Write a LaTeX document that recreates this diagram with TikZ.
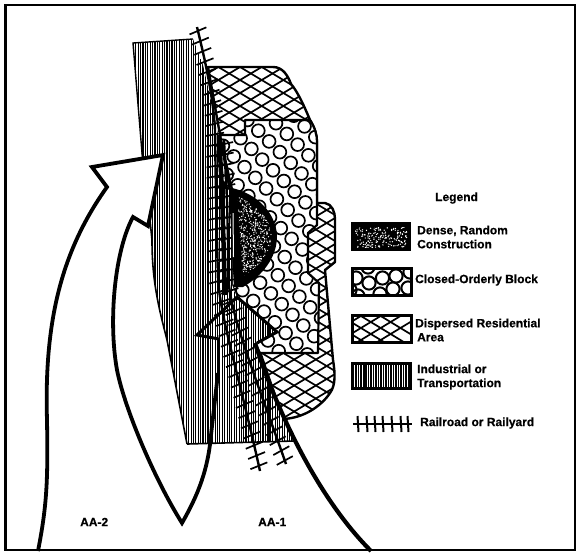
\documentclass[tikz,border=0pt]{standalone}
\usepackage{fontspec}
\setmainfont{Liberation Sans}
\newfontfamily\heavyfont[FakeBold=0.5,UprightFont=* Bold]{Liberation Sans}
\usetikzlibrary{decorations.markings}
\def\indpath{(133,43) -- (193,39) -- (203,65) -- (212,105) -- (218,135) -- (224,180) -- (232,195) -- (232,285) -- (237,297) -- (277,332) -- (255,343) -- (294,441) -- (187,444) -- (167,340) .. controls (158,305) and (152,280) .. (152,240) -- (148,200) -- (142,153) -- cycle}
\def\disppath{(208,67) -- (273,67) .. controls (283,67) and (288,76) .. (291,84) .. controls (298,92) and (305,108) .. (310,120) .. controls (315,128) and (317,135) .. (317,142) -- (317,203) -- (325,203) .. controls (332,204) and (335,212) .. (335,219) -- (335,262) -- (325,270) -- (333,360) .. controls (335,372) and (336,385) .. (330,393) .. controls (322,405) and (305,418) .. (283,419) -- (257,343) -- (220,135) -- cycle}
\def\closedpath{(220,135) -- (245,135) -- (245,120) -- (310,120) .. controls (315,128) and (317,135) .. (317,142) -- (317,225) -- (308,233) -- (308,273) -- (319,283) -- (318,353) -- (260,353) -- (255,343) -- (277,332) -- (237,297) -- (232,285) -- (232,190) -- cycle}
\def\densepath{(226,187) .. controls (252,190) and (276,210) .. (277,236) .. controls (277,258) and (262,276) .. (243,287) -- (234,287) -- (229,190) -- cycle}
\tikzset{
  arrowline/.style={line width=3.8pt,line join=miter},
  hatchline/.style={line width=1.7pt},
  blockcircle/.style={line width=1.7pt,fill=white},
  legendbox/.style={draw,line width=3pt},
  legendtext/.style={font=\fontsize{12}{14}\selectfont\heavyfont,align=left,anchor=west,inner sep=0pt},
  railrail/.style={line width=2.4pt,postaction={decorate,decoration={markings,mark=between positions 4pt and 1 step 10.5pt with {\draw[line width=1.7pt] (-1.5,-9) -- (1.5,9);}}}},
}
\begin{document}
\begin{tikzpicture}[x=1pt,y=-1pt]
\useasboundingbox (0,0) rectangle (580,558);
\fill[white] (0,0) rectangle (580,558);
\pgfmathsetseed{11}
% dispersed residential
\begin{scope}
  \clip \disppath;
  \foreach \k in {-155,-142,...,340}{\draw[hatchline] (200,\k+120) -- (345,\k+207);}
  \foreach \k in {-107,-94,...,600}{\draw[hatchline] (200,\k+120) -- (345,\k+33);}
\end{scope}
\draw[line width=2.4pt,line join=round] \disppath;
% closed orderly block
\fill[white] \closedpath;
\begin{scope}
  \clip \closedpath;
  \foreach \a in {-6,...,24}{\foreach \b in {-8,...,8}{
    \pgfmathsetmacro\cx{258.3+10.8*\a-17.7*\b}
    \pgfmathsetmacro\cy{130.7+10.7*\a+7.5*\b}
    \draw[blockcircle] (\cx,\cy) circle[radius=6.4pt];
  }}
\end{scope}
\draw[line width=2.2pt,line join=round] \closedpath;
% industrial
\fill[white] \indpath;
\begin{scope}
  \clip \indpath;
  \foreach \i in {0,...,70}{
    \pgfmathsetmacro\xx{131+\i*2.4}
    \pgfmathsetmacro\wd{0.7+0.95*rnd}
    \draw[line width=\wd pt] (\xx,30) -- (\xx,450);
  }
\end{scope}
\draw[line width=1.6pt] (187,444) -- (294,441);
\draw[line width=1.4pt] (193,39) -- (133,43) -- (142,153);
\draw[line width=1.6pt] (142,153) -- (148,200) -- (152,240) .. controls (152,280) and (158,305) .. (167,340) -- (187,444);
% railroad
\draw[railrail] (197,27) .. controls (205,60) and (213,95) .. (215,130) -- (216,200) -- (218,280) .. controls (221,320) and (240,380) .. (260,471);
\draw[railrail] (224,140) -- (227,200) -- (229,285) .. controls (232,320) and (262,395) .. (286,464);
\draw[line width=4.5pt] (219,135) -- (222,190) -- (225,295);
% dense random construction
\fill[black] \densepath;
\draw[white,line width=1pt] (233,213) -- (233.5,257);
\begin{scope}
  \clip (237,196) .. controls (256,204) and (272,220) .. (272,238) .. controls (272,252) and (258,268) .. (243,276) -- cycle;
  \foreach \i in {1,...,650}{
    \pgfmathsetmacro\px{236+37*rnd}
    \pgfmathsetmacro\py{195+82*rnd}
    \fill[white] (\px,\py) circle[radius=0.65pt];
  }
\end{scope}
% arrows
\fill[white] (38,549) .. controls (47,505) and (48,480) .. (47,420) .. controls (44,320) and (62,250) .. (107,187) -- (92,167) -- (163,155) -- (148,226) -- (133,217) .. controls (115,250) and (108,320) .. (117,370) .. controls (125,410) and (155,480) .. (182,523) -- (100,549) -- cycle;
\draw[arrowline] (38,551) .. controls (47,505) and (48,480) .. (47,420) .. controls (44,320) and (62,250) .. (107,187) -- (92,167) -- (163,155) -- (148,226) -- (133,217) .. controls (115,250) and (108,320) .. (117,370) .. controls (125,410) and (155,480) .. (182,523) .. controls (198,495) and (208,470) .. (211,435) -- (218,373);
\draw[line width=2pt] (218,373) -- (219,338);
\draw[line width=3pt,line join=miter] (219,339) -- (197,335) -- (237,297) -- (277,332) -- (257,343);
\draw[line width=4.2pt] (255,343) .. controls (275,405) and (315,495) .. (371,551);
% labels
\node[legendtext] (aa2) at (80,522) {AA-2};
\node[legendtext] (aa1) at (258,522) {AA-1};
% legend
\node[legendtext] (title) at (435,198) {Legend};
% dense swatch
\fill[black] (351,222) rectangle (411,251);
\begin{scope}
  \clip (355,227) rectangle (407,247);
  \foreach \i in {1,...,170}{
    \pgfmathsetmacro\px{355+52*rnd}
    \pgfmathsetmacro\py{226+22*rnd}
    \fill[white] (\px,\py) circle[radius=0.7pt];
  }
\end{scope}
\node[legendtext] (t1) at (417,237) {Dense, Random\\Construction};
% closed swatch
\begin{scope}
  \clip (351,267) rectangle (412,296);
  \foreach \cx/\cy in {369/283,382.5/278,396/276,393/289,408/288,356/278,368/267,380/294,350/290,410/272,358/296}{
    \draw[line width=2pt] (\cx,\cy) circle[radius=6.6pt];
  }
\end{scope}
\draw[legendbox] (352,268) rectangle (411.5,295);
\node[legendtext] (t2) at (415,280) {Closed-Orderly Block};
% dispersed swatch
\begin{scope}
  \clip (351,314) rectangle (412,343);
  \foreach \k in {-30,-18,...,30}{\draw[hatchline] (351,\k+328) -- (412,\k+365);}
  \foreach \k in {-30,-18,...,30}{\draw[hatchline] (351,\k+328) -- (412,\k+291);}
\end{scope}
\draw[legendbox] (352,315) rectangle (411.5,342);
\node[legendtext] (t3) at (415,330) {Dispersed Residential\\\hspace*{2pt}Area};
% industrial swatch
\begin{scope}
  \clip (351,362) rectangle (411,389);
  \foreach \i in {0,...,24}{
    \pgfmathsetmacro\xx{351+\i*2.5}
    \pgfmathsetmacro\wd{1.0+1.0*rnd}
    \draw[line width=\wd pt] (\xx,360) -- (\xx,390);
  }
\end{scope}
\draw[legendbox] (352.5,363) rectangle (410,388);
\node[legendtext] (t4) at (417,377) {Industrial or\\Transportation};
% railroad swatch
\coordinate (rs) at (353,424);
\coordinate (re) at (412,424);
\draw[line width=2.6pt] (rs) -- (re);
\foreach \x in {358,367,375,383,392,401,408}{
  \draw[line width=2pt] (\x-0.5,416) -- (\x+0.5,432);
}
\node[legendtext] (t5) at (420,423) {Railroad or Railyard};
% frame
\draw[line width=2.6pt] (5.5,5) rectangle (575,550);
\end{tikzpicture}
\end{document}
